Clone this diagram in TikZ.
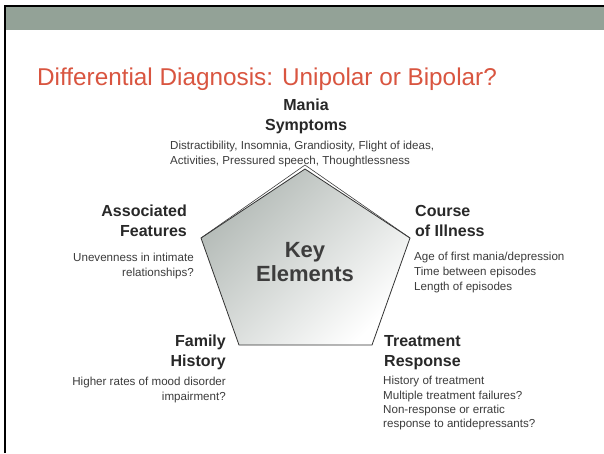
\documentclass[tikz,border=0pt]{standalone}
\usepackage{fontspec}
\setmainfont{Liberation Sans}
\usetikzlibrary{positioning}

\definecolor{titlered}{RGB}{217,85,64}
\definecolor{barsage}{RGB}{147,162,151}
\definecolor{headgray}{RGB}{40,40,40}
\definecolor{bodygray}{RGB}{60,60,60}
\definecolor{pentdark}{RGB}{178,185,181}

\begin{document}
\begin{tikzpicture}[x=1pt, y=-1pt,
    head/.style={font=\fontsize{16}{20}\selectfont\bfseries, text=headgray,
                 inner sep=0pt, align=#1},
    body/.style={font=\fontsize{11.6}{15}\selectfont, text=bodygray,
                 inner sep=0pt, align=#1},
    rim/.style={draw=black!80, line width=0.8pt, line join=miter}
]
    \useasboundingbox[fill=white] (0,0) rectangle (604,453);

    % slide frame and header bar
    \fill[barsage] (5,6) rectangle (604,30);
    \draw[line width=2.5pt] (5.2,453) -- (5.2,6.2) -- (604,6.2);

    % title
    \node[anchor=base west, inner sep=0pt, text=titlered,
          font=\fontsize{24.3}{28}\selectfont] (title) at (37,85)
        {Differential Diagnosis: Unipolar or Bipolar?};

    % pentagon
    \coordinate (ptop) at (305,169);
    \coordinate (pleft) at (201,238);
    \coordinate (pright) at (410,238);
    \coordinate (pbl) at (239,345);
    \coordinate (pbr) at (372,345);
    \shade[shading=axis, top color=pentdark, bottom color=white, shading angle=45]
        (ptop) -- (pright) -- (pbr) -- (pbl) -- (pleft) -- cycle;
    \draw[rim] (ptop) -- (pright) -- (pbr) -- (pbl) -- (pleft) -- cycle;
    \draw[draw=black!75, line width=0.6pt] (pleft) -- (305,165) -- (pright);
    \node[font=\fontsize{22}{24}\selectfont\bfseries, text=headgray!90,
          align=center, inner sep=0pt] (key) at (305,262) {Key\\Elements};

    % mania symptoms (base = last line)
    \node[head=center, anchor=base] (mania) at (306,130) {Mania\\Symptoms};
    \node[body=left, anchor=base west] (maniatxt) at (170,164)
        {Distractibility, Insomnia, Grandiosity, Flight of ideas,\\
         Activities, Pressured speech, Thoughtlessness};

    % associated features
    \node[head=right, anchor=base east] (assoc) at (187,236) {Associated\\Features};
    \node[body=right, anchor=base east] (assoctxt) at (194,276)
        {Unevenness in intimate\\relationships?};

    % course of illness
    \node[head=left, anchor=base west] (course) at (415,236) {Course\\of Illness};
    \node[body=left, anchor=base west] (coursetxt) at (414,290)
        {Age of first mania/depression\\Time between episodes\\Length of episodes};

    % family history
    \node[head=right, anchor=base east] (family) at (226,366) {Family\\History};
    \node[body=right, anchor=base east] (familytxt) at (226,400)
        {Higher rates of mood disorder\\impairment?};

    % treatment response
    \node[head=left, anchor=base west] (treat) at (384,366) {Treatment\\Response};
    \node[body=left, anchor=base west] (treattxt) at (383,427)
        {History of treatment\\Multiple treatment failures?\\[-1.5pt]
         Non-response or erratic\\[-1pt]response to antidepressants?};
\end{tikzpicture}
\end{document}
